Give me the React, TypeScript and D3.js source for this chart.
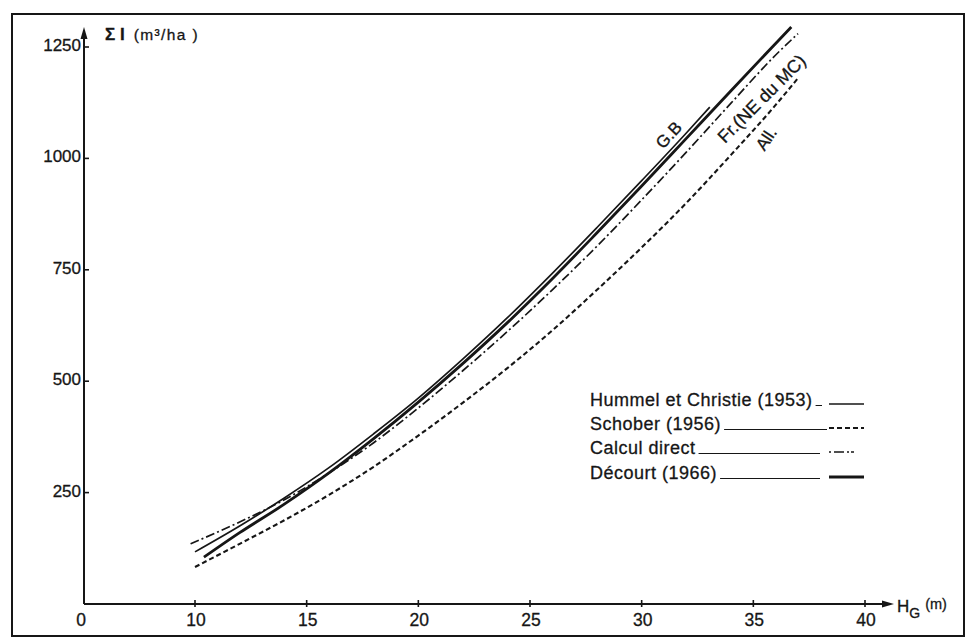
import React, { useEffect, useRef } from 'react';
import * as d3 from 'd3';

const W = 967;
const H = 639;

// Axis ticks (the H axis is broken between 0 and 10)
const xTickValues = [0, 10, 15, 20, 25, 30, 35, 40];
const yTickValues = [250, 500, 750, 1000, 1250];

// Hummel et Christie (1953) — G.B.
const hcHeight = [10, 12, 14, 16, 18, 20, 22, 24, 26, 28, 30, 32, 33.05];
const hcVolume = [117, 175, 238, 306, 382, 462, 550, 643, 742, 845, 950, 1057, 1115];

// Schober (1956) — All.
const schHeight = [10, 12, 14, 16, 18, 20, 22, 24, 26, 28, 30, 32, 34, 36, 37];
const schVolume = [83, 135, 188, 245, 308, 378, 452, 530, 614, 705, 800, 900, 1008, 1120, 1180];

// Calcul direct
const cdHeight = [9.6, 12, 14, 16, 18, 20, 22, 24, 26, 28, 30, 32, 34, 36, 37];
const cdVolume = [135, 184, 234, 294, 362, 440, 524, 612, 705, 803, 907, 1014, 1124, 1232, 1280];

// Décourt (1966) — Fr. (NE du MC)
const decHeight = [10.4, 12, 14, 16, 18, 20, 22, 24, 26, 28, 30, 32, 34, 36, 36.7];
const decVolume = [105, 160, 224, 294, 371, 453, 540, 632, 730, 833, 938, 1045, 1152, 1258, 1295];

const legendLabels = ['Hummel et Christie (1953)', 'Schober (1956)', 'Calcul direct', 'Décourt (1966)'];

const INK = '#161616';
const FONT = "'Liberation Sans', Arial, sans-serif";

type Style = { width: number; dash: string | null };
const styles: Style[] = [
  { width: 1.7, dash: null },
  { width: 2.1, dash: '5,3' },
  { width: 1.7, dash: '9,3,2,3' },
  { width: 2.8, dash: null },
];

export default function App() {
  const ref = useRef<SVGSVGElement | null>(null);

  useEffect(() => {
    const svg = d3.select(ref.current);
    svg.selectAll('*').remove();

    // outer frame
    svg.append('rect')
      .attr('x', 12).attr('y', 14).attr('width', 952).attr('height', 622)
      .attr('fill', 'none').attr('stroke', INK).attr('stroke-width', 2);

    const x = d3.scaleLinear().domain([0, 10, 40]).range([84, 195, 865]);
    const y = d3.scaleLinear().domain([0, 1250]).range([604, 47]);

    const g = svg.append('g');

    const txt = (sel: d3.Selection<SVGTextElement, unknown, null, undefined>) =>
      sel.attr('font-family', FONT).attr('fill', INK).attr('stroke', INK).attr('stroke-width', 0.3);

    // axes
    g.append('line').attr('x1', x(0)).attr('x2', x(0)).attr('y1', y(0)).attr('y2', 34)
      .attr('stroke', INK).attr('stroke-width', 2);
    g.append('path').attr('d', `M${x(0)},27 L${x(0) - 3.5},39 L${x(0) + 3.5},39 Z`).attr('fill', INK);
    g.append('line').attr('x1', x(0)).attr('x2', 886).attr('y1', y(0)).attr('y2', y(0))
      .attr('stroke', INK).attr('stroke-width', 2);
    g.append('path').attr('d', `M894,${y(0)} L882,${y(0) - 3.5} L882,${y(0) + 3.5} Z`).attr('fill', INK);

    // y ticks
    yTickValues.forEach((v) => {
      g.append('line').attr('x1', x(0)).attr('x2', x(0) + 5).attr('y1', y(v)).attr('y2', y(v))
        .attr('stroke', INK).attr('stroke-width', 1.6);
      txt(g.append('text')).attr('x', 81).attr('y', y(v) + 4).attr('text-anchor', 'end')
        .attr('font-size', 17).text(v);
    });

    // x ticks
    xTickValues.forEach((v) => {
      if (v !== 0) {
        g.append('line').attr('x1', x(v)).attr('x2', x(v)).attr('y1', y(0) - 4).attr('y2', y(0) + 3)
          .attr('stroke', INK).attr('stroke-width', 1.6);
      }
      txt(g.append('text')).attr('x', v === 0 ? x(v) - 3 : x(v) + 1).attr('y', 626).attr('text-anchor', 'middle')
        .attr('font-size', 17.5).text(v);
    });

    // axis titles
    const yt = txt(g.append('text')).attr('x', 105).attr('y', 40);
    yt.append('tspan').attr('font-size', 17).attr('font-weight', 'bold').text('Σ I');
    yt.append('tspan').attr('dx', 9).attr('font-size', 15.5).attr('letter-spacing', 1.4).text('(m³/ha )');

    const xt = txt(g.append('text')).attr('x', 897).attr('y', 612);
    xt.append('tspan').attr('font-size', 17).text('H');
    xt.append('tspan').attr('font-size', 14).attr('dy', 6).text('G');
    xt.append('tspan').attr('font-size', 14.5).attr('dx', 5).attr('dy', -9).text('(m)');

    // curves
    const series: [number[], number[]][] = [
      [hcHeight, hcVolume],
      [schHeight, schVolume],
      [cdHeight, cdVolume],
      [decHeight, decVolume],
    ];
    const line = d3.line<[number, number]>()
      .x((d) => x(d[0]))
      .y((d) => y(d[1]))
      .curve(d3.curveMonotoneX);

    series.forEach(([hs, vs], i) => {
      const pts = hs.map((h, j) => [h, vs[j]] as [number, number]);
      const p = g.append('path').attr('d', line(pts) || '')
        .attr('fill', 'none').attr('stroke', INK).attr('stroke-width', styles[i].width)
        .attr('stroke-linecap', 'butt');
      if (styles[i].dash) p.attr('stroke-dasharray', styles[i].dash);
    });

    // curve labels
    const curveLabel = (t: string, cx: number, cy: number, rot: number, size: number) => {
      txt(g.append('text')).attr('transform', `translate(${cx},${cy}) rotate(${rot})`)
        .attr('text-anchor', 'middle').attr('font-size', size).text(t);
    };
    curveLabel('G.B', 673, 139, -47, 17);
    curveLabel('Fr.(NE du MC)', 766, 103, -45, 18);
    curveLabel('All.', 771, 142, -56, 17);

    // legend
    const rowY = [406, 430, 454, 479];
    const leaderEnd = [822, 827, 820, 820];
    legendLabels.forEach((name, i) => {
      const t = txt(g.append('text')).attr('x', 590).attr('y', rowY[i])
        .attr('font-size', 18).attr('letter-spacing', 0.5).text(name);
      const node = t.node() as SVGTextElement;
      const end = 590 + node.getComputedTextLength();
      g.append('line').attr('x1', end + 3).attr('x2', leaderEnd[i]).attr('y1', rowY[i] - 0.5).attr('y2', rowY[i] - 0.5)
        .attr('stroke', INK).attr('stroke-width', 1);
      const s = g.append('line').attr('x1', 829).attr('x2', 864).attr('y1', rowY[i] - 2).attr('y2', rowY[i] - 2)
        .attr('stroke', INK).attr('stroke-width', styles[i].width);
      if (styles[i].dash) s.attr('stroke-dasharray', i === 2 ? '2,3,10,3,2' : '5,3');
    });
  }, []);

  return (
    <svg
      ref={ref}
      width={W}
      height={H}
      viewBox={`0 0 ${W} ${H}`}
      style={{ position: 'absolute', left: 0, top: 0, background: '#fff' }}
    />
  );
}
